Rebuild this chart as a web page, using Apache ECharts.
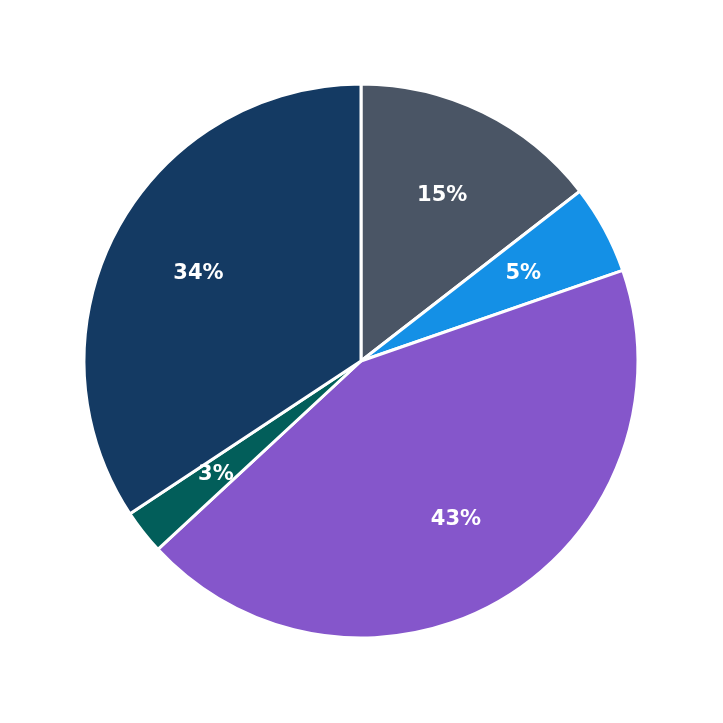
<!DOCTYPE html>
<html><head><meta charset="utf-8">
<script src="https://cdn.jsdelivr.net/npm/echarts@6/dist/echarts.min.js"></script>
<style>html,body{margin:0;padding:0;background:#fff}#c{width:723px;height:723px}</style>
</head><body><div id="c"></div>
<script>
const categories = ['A','B','C','D','E'];
const values = [14.5, 5.2, 43.4, 2.6, 34.3];
const colors = ['#4a5565','#1490e6','#8556cb','#025e5a','#143a63'];
const data = categories.map((n,i)=>({name:n,value:values[i],itemStyle:{color:colors[i]}}));
const chart = echarts.init(document.getElementById('c'));
chart.setOption({
  animation:false,
  series:[
    {type:'pie',center:[361,361],radius:[0,277],startAngle:90,clockwise:true,
     data:data,itemStyle:{borderColor:'#fff',borderWidth:3},label:{show:false},labelLine:{show:false},silent:true},
    {type:'pie',center:[361,361],radius:[86,277],startAngle:90,clockwise:true,
     data:data.map(d=>({name:d.name,value:d.value,itemStyle:{color:'rgba(0,0,0,0)'}})),
     silent:true,labelLine:{show:false},
     label:{show:true,position:'inside',color:'#fff',fontSize:21,fontWeight:'bold',fontFamily:'DejaVu Sans',
       formatter:p=>Math.round(p.percent)+'%'}}
  ]
});
</script></body></html>
